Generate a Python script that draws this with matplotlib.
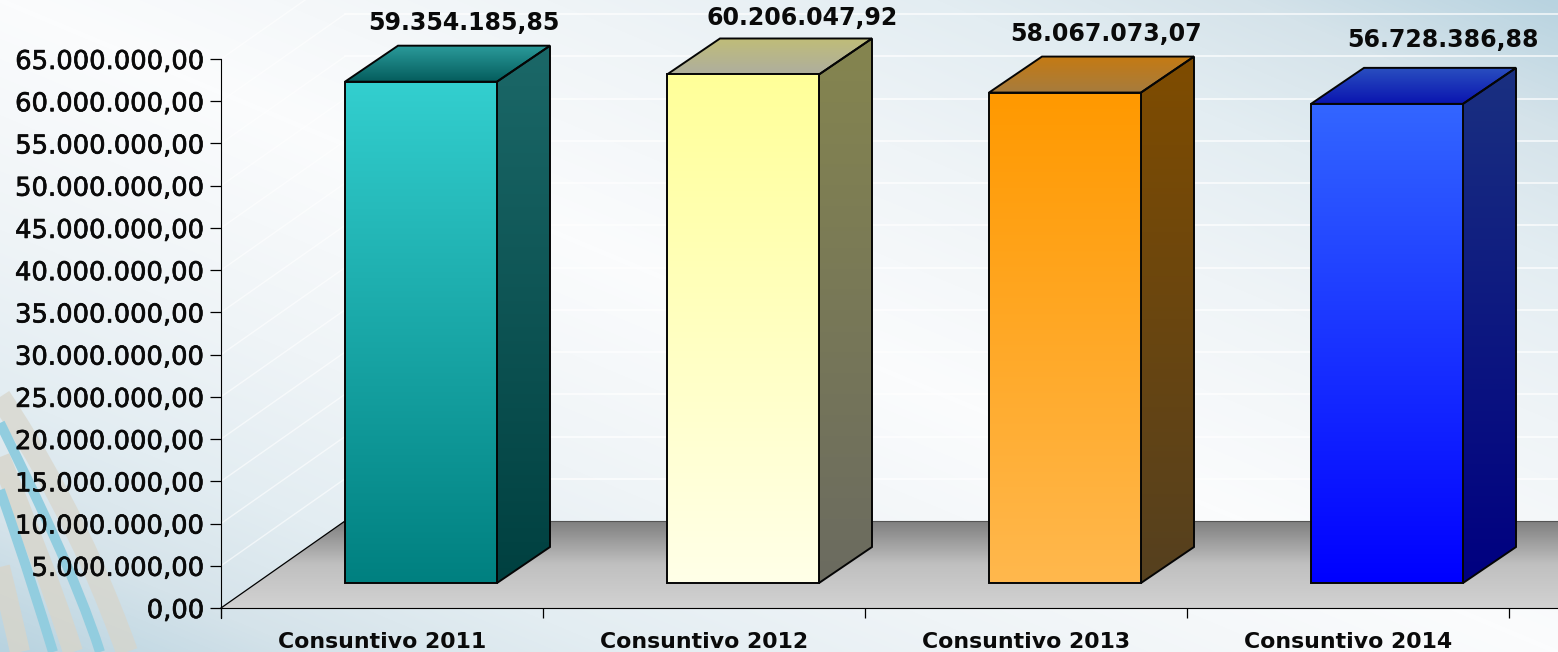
import numpy as np
import matplotlib
matplotlib.use("Agg")
import matplotlib.pyplot as plt
import matplotlib.patheffects as pe
from matplotlib.colors import LinearSegmentedColormap
from matplotlib.patches import Polygon, PathPatch
from matplotlib.path import Path

# Data
categories = ["Consuntivo 2011", "Consuntivo 2012", "Consuntivo 2013", "Consuntivo 2014"]
values = [59354185.85, 60206047.92, 58067073.07, 56728386.88]
value_labels = ["59.354.185,85", "60.206.047,92", "58.067.073,07", "56.728.386,88"]
y_ticks = list(range(0, 65000001, 5000000))

# front (top, bottom), side (top, bottom), lid (back, front)
front_colors = [("#33cfcf", "#008080"), ("#ffff99", "#ffffe8"), ("#ff9900", "#ffb84d"), ("#3366ff", "#0000ff")]
side_colors = [("#1b6868", "#004040"), ("#85854f", "#6b6b60"), ("#7f4c00", "#55401f"), ("#1a3080", "#000080")]
lid_colors = [("#2a9a9a", "#045c5c"), ("#c0bd78", "#aeae9e"), ("#c47a14", "#a67c3e"), ("#2a50c0", "#0a14b0")]

W, H = 1558, 652
fig = plt.figure(figsize=(W / 100, H / 100), dpi=100)

# --------------------
# Background: light along the TL-BR diagonal, blue in the other two corners
# --------------------
bg = fig.add_axes([0, 0, 1, 1], zorder=0)
yy, xx = np.mgrid[0:H, 0:W]
t = np.abs(xx / W - yy / H)
bg_cmap = LinearSegmentedColormap.from_list(
    "bg", [(0, "#fbfcfd"), (0.35, "#eff4f7"), (0.6, "#e3edf2"), (0.8, "#d5e3ea"), (1, "#b8d3e0")]
)
bg.imshow(t, cmap=bg_cmap, vmin=0, vmax=1, extent=[0, W, H, 0], aspect="auto")

# Curved stripes in the lower left corner
stripes = [
    ([(0, 397), (33, 447), (83, 530), (127, 652)], "#d8d5ca", 22, 0.7),
    ([(0, 457), (25, 520), (50, 580), (73, 652)], "#d8d5ca", 20, 0.8),
    ([(0, 567), (7, 595), (14, 625), (20, 652)], "#d8d5ca", 20, 0.8),
    ([(0, 423), (33, 490), (77, 580), (100, 652)], "#92cddf", 10, 1),
    ([(0, 490), (27, 567), (40, 610), (53, 652)], "#92cddf", 10, 1),
]
for pts, col, lw, alpha in stripes:
    path = Path(pts, [Path.MOVETO, Path.CURVE4, Path.CURVE4, Path.CURVE4])
    bg.add_patch(PathPatch(path, fc="none", ec=col, lw=lw * 0.72, alpha=alpha))
bg.set_xlim(0, W)
bg.set_ylim(H, 0)
bg.axis("off")

# --------------------
# Chart axes, spanning the figure so the 3D parts can run past the plot area
# --------------------
X0, Y0 = 221, 608          # pixel of the origin
PX_CAT = 322.0             # pixels per category
PX_VAL = 549.0 / 65e6      # pixels per unit

ax = fig.add_axes([0, 0, 1, 1], zorder=1)
ax.patch.set_alpha(0)
ax.set_xlim(-X0 / PX_CAT, (W - X0) / PX_CAT)
ax.set_ylim(-(H - Y0) / PX_VAL, Y0 / PX_VAL)


def dx(px):
    return px / PX_CAT


def dy(px):
    return px / PX_VAL


def gradient(poly, top, bottom, z):
    poly = np.array(poly)
    cmap = LinearSegmentedColormap.from_list("g", [top, bottom])
    im = ax.imshow(
        np.linspace(0, 1, 256).reshape(-1, 1),
        cmap=cmap,
        aspect="auto",
        extent=[poly[:, 0].min(), poly[:, 0].max(), poly[:, 1].min(), poly[:, 1].max()],
        zorder=z,
    )
    edge = Polygon(poly, closed=True, fc="none", ec="#050505", lw=1.4, zorder=z + 0.1, joinstyle="miter")
    ax.add_patch(edge)
    im.set_clip_path(Polygon(poly, closed=True, transform=ax.transData))


# Wall gridlines and floor
floor_dx, floor_dy = dx(124), dy(87)
x_end = ax.get_xlim()[1]
for v in y_ticks[1:]:
    ax.plot([0, floor_dx], [v, v + floor_dy], color="white", lw=1.0, alpha=0.6, zorder=1)
    ax.plot([floor_dx, x_end], [v + floor_dy, v + floor_dy], color="white", lw=1.1, alpha=0.85, zorder=1)

floor = np.array([(0, 0), (floor_dx, floor_dy), (x_end, floor_dy), (x_end, 0)])
im = ax.imshow(
    np.linspace(0, 1, 256).reshape(-1, 1),
    cmap=LinearSegmentedColormap.from_list("floor", ["#7f7f7f", "#c0c0c0", "#d2d2d2"]),
    aspect="auto",
    extent=[0, x_end, 0, floor_dy],
    zorder=2,
)
im.set_clip_path(Polygon(floor, closed=True, transform=ax.transData))
ax.plot([0, floor_dx], [0, floor_dy], color="black", lw=0.9, zorder=2.5)
ax.plot([floor_dx, x_end], [floor_dy, floor_dy], color="#555555", lw=0.8, zorder=2.5)

# Bars
bar_w = dx(152)
shift_x, base_y = dx(39), dy(25)    # front face sits this far into the floor
side_x, side_y = dx(53), dy(36)     # depth of each bar

label_dx = [43, 59, 41, 56]
label_dy = [23, 20, 23, 28]

for i, val in enumerate(values):
    x1 = i + 0.5 - bar_w / 2 + shift_x
    x2 = x1 + bar_w
    y1, y2 = base_y, base_y + val
    gradient([(x2, y1), (x2 + side_x, y1 + side_y), (x2 + side_x, y2 + side_y), (x2, y2)], *side_colors[i], 3)
    gradient([(x1, y2), (x2, y2), (x2 + side_x, y2 + side_y), (x1 + side_x, y2 + side_y)], *lid_colors[i], 3)
    gradient([(x1, y1), (x2, y1), (x2, y2), (x1, y2)], *front_colors[i], 4)
    ax.text(
        (x1 + x2) / 2 + dx(label_dx[i]),
        y2 + side_y + dy(label_dy[i]),
        value_labels[i],
        ha="center",
        va="center",
        fontsize=17,
        fontweight="bold",
        color="#0a0a0a",
        zorder=6,
    )

# Restore limits, imshow changes them
ax.set_xlim(-X0 / PX_CAT, (W - X0) / PX_CAT)
ax.set_ylim(-(H - Y0) / PX_VAL, Y0 / PX_VAL)

# --------------------
# Axes lines, ticks, labels
# --------------------
for s in ["top", "right"]:
    ax.spines[s].set_visible(False)
ax.spines["left"].set_position(("data", 0))
ax.spines["bottom"].set_position(("data", 0))
ax.spines["left"].set_bounds(-dy(10), 65e6)
ax.spines["bottom"].set_bounds(0, x_end)
ax.spines["left"].set_zorder(5)
ax.spines["bottom"].set_zorder(5)

ax.set_yticks(y_ticks)
ax.set_yticklabels([f"{v:,.2f}".replace(",", "#").replace(".", ",").replace("#", ".") for v in y_ticks])
ax.tick_params(axis="y", length=8, width=0.9, pad=4, labelsize=18.6, labelcolor="#0a0a0a")

ax.set_xticks(range(5))
ax.set_xticklabels([""] * 5)
ax.set_xticks([i + 0.5 for i in range(4)], labels=categories, minor=True)
ax.tick_params(axis="x", which="major", length=7, width=0.9)
ax.tick_params(axis="x", which="minor", length=0, pad=17, labelsize=15.8)
for lab in ax.get_xticklabels(minor=True):
    lab.set_fontweight("bold")
    lab.set_color("#0a0a0a")
for lab in ax.get_yticklabels():
    lab.set_path_effects([pe.withStroke(linewidth=0.5, foreground="#0a0a0a")])

fig.savefig("out.png", dpi=100)
